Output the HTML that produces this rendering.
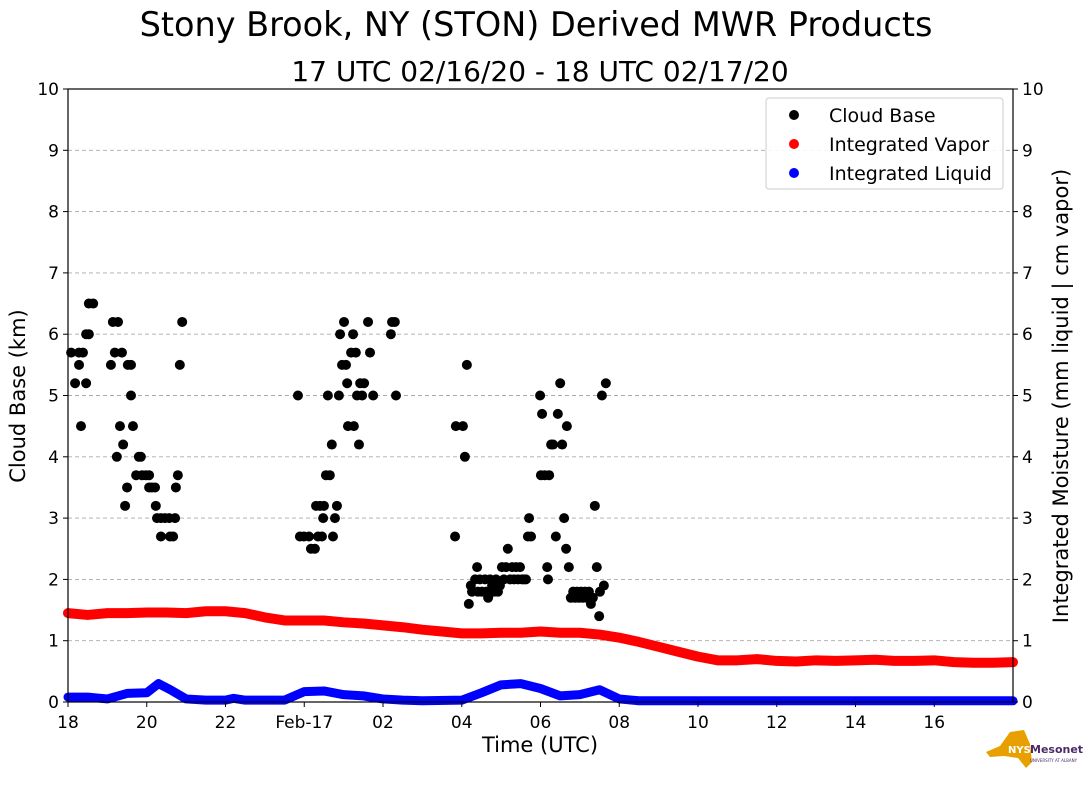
<!DOCTYPE html>
<html><head><meta charset="utf-8"><style>
body{margin:0;background:#fff;}
svg{display:block;font-family:"DejaVu Sans","Liberation Sans",sans-serif;}
</style></head><body>
<svg id="chart" width="1089" height="804">
<text x="536" y="36" font-size="33.5" text-anchor="middle">Stony Brook, NY (STON) Derived MWR Products</text>
<text x="540" y="81" font-size="28" text-anchor="middle">17 UTC 02/16/20 - 18 UTC 02/17/20</text>
<g id="grid"></g>
<g id="marks"></g>
<rect x="68" y="89" width="945" height="613" fill="none" stroke="#000" stroke-width="1.2"/>
<g id="axes"></g>
<text x="540" y="752" font-size="21" text-anchor="middle">Time (UTC)</text>
<text transform="translate(25,396) rotate(-90)" font-size="21" text-anchor="middle">Cloud Base (km)</text>
<text transform="translate(1068,396) rotate(-90)" font-size="21" text-anchor="middle">Integrated Moisture (mm liquid | cm vapor)</text>
<g>
<rect x="766" y="98" width="237" height="91" rx="3" fill="#fff" fill-opacity="0.85" stroke="#ccc"/>
<g><circle cx="794" cy="115" r="5" fill="#000"/><text x="829" y="122" font-size="19">Cloud Base</text></g>
<g><circle cx="794" cy="144" r="5" fill="red"/><text x="829" y="151" font-size="19">Integrated Vapor</text></g>
<g><circle cx="794" cy="173" r="5" fill="blue"/><text x="829" y="180" font-size="19">Integrated Liquid</text></g>
</g>
<g>
<path d="M986 752 L1000 746 L1010 732 L1024 730 L1030 744 L1032 762 L1026 768 L1018 758 L1004 756 L990 757 Z" fill="#e8a000"/>
<rect x="1006" y="742" width="22" height="14" fill="#e8a000"/>
<text x="1008" y="753" font-size="10" font-weight="bold" fill="#fff">NYS</text>
<text x="1030" y="753" font-size="11" font-weight="bold" fill="#4b2a6b">Mesonet</text>
<text x="1030" y="762" font-size="4" fill="#4b2a6b">UNIVERSITY AT ALBANY</text>
</g>
</svg>
<script>
const xTickLabels=["18","20","22","Feb-17","02","04","06","08","10","12","14","16"];
const xTickHours=[0,2,4,6,8,10,12,14,16,18,20,22];
const yTicks=[0,1,2,3,4,5,6,7,8,9,10];
const cloudHours=[0.08,0.18,0.28,0.28,0.33,0.38,0.46,0.46,0.53,0.53,0.64,1.09,1.14,1.19,1.27,1.24,1.32,1.37,1.40,1.45,1.50,1.52,1.60,1.60,1.65,1.73,1.80,1.85,1.88,1.98,2.06,2.06,2.13,2.21,2.23,2.26,2.36,2.36,2.46,2.57,2.59,2.67,2.72,2.74,2.79,2.84,2.90,
5.84,5.89,5.99,6.12,6.17,6.27,6.30,6.35,6.40,6.45,6.48,6.50,6.55,6.60,6.65,6.70,6.73,6.78,6.83,6.88,6.91,6.96,7.01,7.06,7.09,7.11,7.19,7.24,7.26,7.31,7.34,7.39,7.42,7.47,7.52,7.62,7.67,7.75,8.20,8.23,8.30,8.33,
9.83,9.85,10.03,10.08,10.13,10.18,10.23,10.26,10.34,10.39,10.41,10.46,10.51,10.59,10.62,10.67,10.72,10.77,10.82,10.87,10.92,10.97,11.02,11.07,11.12,11.17,11.23,11.28,11.33,11.38,11.43,11.48,11.53,11.58,11.63,11.68,11.71,11.76,11.99,12.01,12.04,12.11,12.17,12.19,12.22,12.27,12.32,12.39,12.44,12.50,12.55,12.60,12.65,12.67,12.72,12.77,12.83,12.88,12.93,12.98,13.03,13.08,13.13,13.18,13.23,13.28,13.33,13.38,13.43,13.49,13.51,13.56,13.61,13.66];
const cloudKm=[5.7,5.2,5.7,5.5,4.5,5.7,5.2,6.0,6.0,6.5,6.5,5.5,6.2,5.7,6.2,4.0,4.5,5.7,4.2,3.2,3.5,5.5,5.5,5.0,4.5,3.7,4.0,4.0,3.7,3.7,3.7,3.5,3.5,3.5,3.2,3.0,2.7,3.0,3.0,3.0,2.7,2.7,3.0,3.5,3.7,5.5,6.2,
5.0,2.7,2.7,2.7,2.5,2.5,3.2,2.7,3.2,2.7,3.0,3.2,3.7,5.0,3.7,4.2,2.7,3.0,3.2,5.0,6.0,5.5,6.2,5.5,5.2,4.5,5.7,6.0,4.5,5.7,5.0,4.2,5.2,5.0,5.2,6.2,5.7,5.0,6.0,6.2,6.2,5.0,
2.7,4.5,4.5,4.0,5.5,1.6,1.9,1.8,2.0,2.2,1.8,2.0,1.8,2.0,1.8,1.7,2.0,1.9,1.8,2.0,1.8,1.9,2.2,2.0,2.2,2.5,2.0,2.2,2.0,2.2,2.0,2.2,2.0,2.0,2.0,2.7,3.0,2.7,5.0,3.7,4.7,3.7,2.2,2.0,3.7,4.2,4.2,2.7,4.7,5.2,4.2,3.0,2.5,4.5,2.2,1.7,1.8,1.7,1.8,1.7,1.8,1.7,1.8,1.7,1.8,1.6,1.7,3.2,2.2,1.4,1.8,5.0,1.9,5.2];
const vaporHours=[0,0.5,1,1.5,2,2.5,3,3.5,4,4.5,5,5.5,6,6.5,7,7.5,8,8.5,9,9.5,10,10.5,11,11.5,12,12.5,13,13.5,14,14.5,15,15.5,16,16.5,17,17.5,18,18.5,19,19.5,20,20.5,21,21.5,22,22.5,23,23.5,24];
const vaporVals=[1.45,1.42,1.45,1.45,1.46,1.46,1.45,1.48,1.48,1.45,1.38,1.33,1.33,1.33,1.30,1.28,1.25,1.22,1.18,1.15,1.12,1.12,1.13,1.13,1.15,1.13,1.13,1.10,1.05,0.98,0.90,0.82,0.74,0.68,0.68,0.70,0.67,0.66,0.68,0.67,0.68,0.69,0.67,0.67,0.68,0.65,0.64,0.64,0.65];
const liquidHours=[0,0.5,1,1.5,2,2.3,2.6,3,3.5,4,4.2,4.5,5,5.5,6,6.5,7,7.5,8,8.5,9,10,10.5,11,11.5,12,12.5,13,13.5,14,14.5,16,20,24];
const liquidVals=[0.08,0.08,0.05,0.14,0.15,0.30,0.20,0.05,0.03,0.03,0.06,0.03,0.03,0.03,0.17,0.18,0.12,0.10,0.05,0.03,0.02,0.03,0.15,0.28,0.30,0.22,0.10,0.12,0.20,0.05,0.02,0.02,0.02,0.02];

const NS="http://www.w3.org/2000/svg";
const X0=68,X1=1013,Y0=702,Y1=89;
const xs=h=>X0+(X1-X0)*h/24;
const ys=v=>Y0-(Y0-Y1)*v/10;
function mk(tag,attrs,parent){const e=document.createElementNS(NS,tag);for(const k in attrs)e.setAttribute(k,attrs[k]);parent.appendChild(e);return e;}
const grid=document.getElementById('grid'),axes=document.getElementById('axes'),marks=document.getElementById('marks');
yTicks.forEach(v=>{
  if(v>0&&v<10){const g=mk('line',{x1:X0,x2:X1,y1:ys(v),y2:ys(v),stroke:'#aaa','stroke-dasharray':'4,3','stroke-width':0.9},grid);
  
  }
  mk('line',{x1:X0-5,x2:X0,y1:ys(v),y2:ys(v),stroke:'#000'},axes);
  mk('line',{x1:X1,x2:X1+5,y1:ys(v),y2:ys(v),stroke:'#000'},axes);
  const t=mk('text',{x:X0-9,y:ys(v)+6,'font-size':17,'text-anchor':'end'},axes);t.textContent=v;
  
  
  const t2=mk('text',{x:X1+9,y:ys(v)+6,'font-size':17},axes);t2.textContent=v;
  
  
});
xTickHours.forEach((h,i)=>{
  mk('line',{x1:xs(h),x2:xs(h),y1:Y0,y2:Y0+5,stroke:'#000'},axes);
  const t=mk('text',{x:xs(h),y:Y0+26,'font-size':17,'text-anchor':'middle'},axes);t.textContent=xTickLabels[i];
  
  
});
function line(hs,vs,color,name,w){
  const p=mk('polyline',{points:hs.map((h,i)=>xs(h)+','+ys(vs[i])).join(' '),fill:'none',stroke:color,'stroke-width':w,'stroke-linecap':'round','stroke-linejoin':'round'},marks);
  
  
}
line(vaporHours,vaporVals,'red','integrated-vapor-series',10);
line(liquidHours,liquidVals,'blue','integrated-liquid-series',9);
cloudHours.forEach((h,i)=>{
  const c=mk('circle',{cx:xs(h),cy:ys(cloudKm[i]),r:5,fill:'#000'},marks);
  
  
});
</script>
</body></html>
